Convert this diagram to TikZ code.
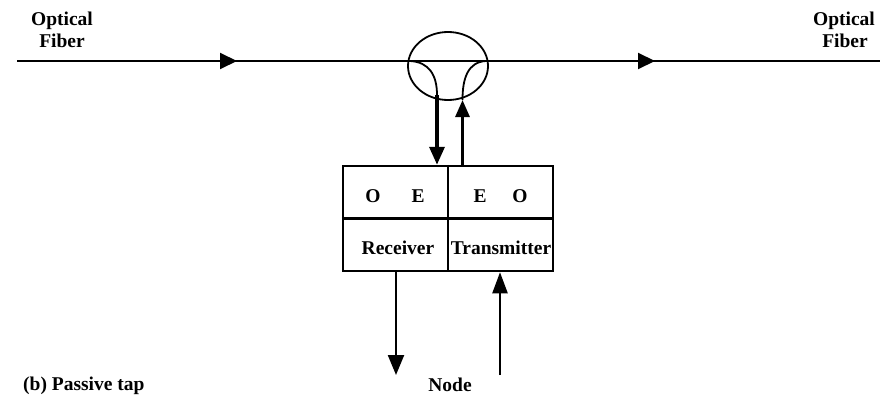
\documentclass[tikz,border=0pt]{standalone}
\usepackage{fontspec}
\setmainfont{Liberation Serif}
\usetikzlibrary{arrows.meta,shapes.geometric}
\begin{document}
\begin{tikzpicture}[x=1pt,y=-1pt,
  lbl/.style={font=\fontsize{19.5}{22}\selectfont\bfseries, inner sep=0pt, anchor=base},
  fiber/.style={line width=2pt},
  fibarrow/.style={line width=2pt,-{Triangle[length=17pt,width=16pt]}},
  tapline/.style={line width=1.8pt},
  boxline/.style={line width=2.5pt},
  thickarrow/.style={line width=3.5pt,-{Triangle[length=18pt,width=15pt]}},
  botarrow/.style={line width=2.2pt,-{Triangle[length=20pt,width=16pt]}}]
\useasboundingbox (0,0) rectangle (880,396);
% fiber
\coordinate (in) at (17,61);
\coordinate (out) at (880,61);
\draw[fiber] (in) -- (out);
\coordinate (a1s) at (220,61); \coordinate (a1e) at (237,61);
\coordinate (a2s) at (638,61); \coordinate (a2e) at (655,61);
\draw[fibarrow] (a1s) -- (a1e);
\draw[fibarrow] (a2s) -- (a2e);
% tap
\node[draw, ellipse, minimum width=80pt, minimum height=68pt, inner sep=0pt, tapline] (tap) at (448,66) {};
\coordinate (tl) at (410,61);
\coordinate (dl) at (437,95);
\coordinate (tr) at (486,61);
\coordinate (ur) at (462.5,100);
\draw[tapline] (tl) .. controls (429,62) and (437,75) .. (dl);
\draw[tapline] (tr) .. controls (468,62) and (462.5,78) .. (ur);
% box
\node[draw, boxline, minimum width=210pt, minimum height=105pt, inner sep=0pt] (box) at (448,218.5) {};
\draw[boxline] (box.north) -- (box.south);
\draw[boxline] (box.west) -- (box.east);
\node[lbl] (o1) at (373,202) {O};
\node[lbl] (e1) at (418,202) {E};
\node[lbl] (e2) at (480,202) {E};
\node[lbl] (o2) at (520,202) {O};
\node[lbl] (rx) at (398,254) {Receiver};
\node[lbl] (tx) at (501,254) {Transmitter};
% arrows to/from tap
\draw[thickarrow] (dl) -- (dl |- box.north);
\draw[line width=3pt,-{Triangle[length=17pt,width=14pt]}] (ur |- box.north) -- (ur);
% bottom arrows
\coordinate (rxo) at (396,375);
\coordinate (txi) at (500,375);
\draw[botarrow] (rxo |- box.south) -- (rxo);
\draw[line width=2.2pt,-{Triangle[length=21pt,width=15pt]}] (txi) -- (txi |- box.south);
% labels
\node[lbl] (lo) at (62,26) {Optical};
\node[lbl] (lf) at (62,48) {Fiber};
\node[lbl] (ro) at (844,26) {Optical};
\node[lbl] (rf) at (845,48) {Fiber};
\node[lbl] (nd) at (450,391) {Node};
\node[lbl, anchor=base west] (cap) at (23,390) {(b) Passive tap};
\end{tikzpicture}
\end{document}
